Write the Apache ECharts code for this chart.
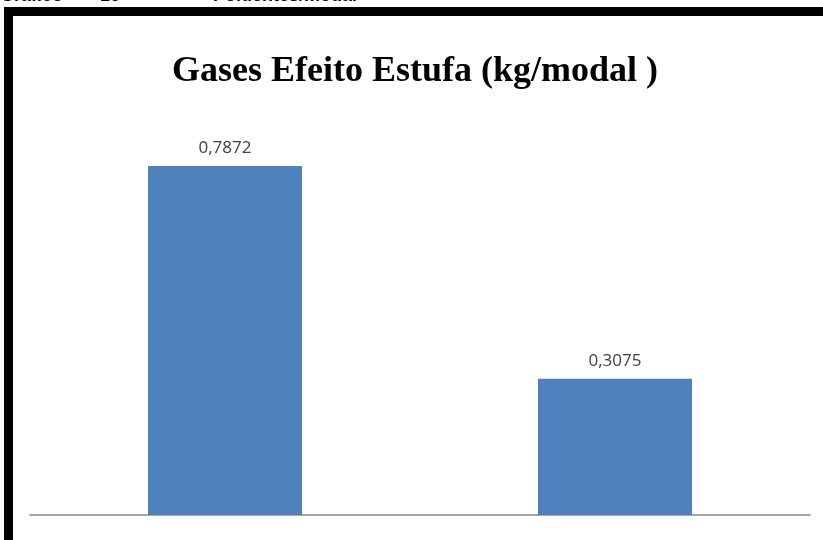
<!DOCTYPE html>
<html>
<head>
<meta charset="utf-8">
<script src="https://cdn.jsdelivr.net/npm/echarts@6/dist/echarts.min.js"></script>
<style>
  html, body { margin: 0; padding: 0; background: #ffffff; }
  #chart { width: 823px; height: 540px; }
</style>
</head>
<body>
<div id="chart"></div>
<script>
// Emissões de gases de efeito estufa por modal (kg/modal)
const categories = ['Modal A', 'Modal B'];
const emissions = [0.7872, 0.3075];
const chartTitle = 'Gases Efeito Estufa (kg/modal )';
const captionParts = [
  { text: 'Gráfico', x: 0 },
  { text: '16', x: 100 },
  { text: '–', x: 147 },
  { text: 'Poluentes/modal', x: 213 }
];

const chart = echarts.init(document.getElementById('chart'), null, { renderer: 'canvas' });

const captionTexts = captionParts.map(p => ({
  type: 'text',
  left: p.x,
  top: -13,
  style: {
    text: p.text,
    font: 'bold 18px "Liberation Sans", Arial, sans-serif',
    fill: '#000000'
  }
}));

chart.setOption({
  animation: false,
  backgroundColor: '#ffffff',
  title: {
    text: chartTitle,
    left: 410,
    top: 49,
    textAlign: 'center',
    textStyle: {
      fontFamily: '"Liberation Serif", "Times New Roman", serif',
      fontWeight: 'bold',
      fontSize: 36,
      color: '#000000'
    }
  },
  grid: { left: 30, right: 13, top: 116, bottom: 25 },
  xAxis: {
    type: 'category',
    data: categories,
    axisLine: { show: true, lineStyle: { color: '#a6a6a6', width: 2 } },
    axisTick: { show: false },
    axisLabel: { show: false },
    splitLine: { show: false }
  },
  yAxis: {
    type: 'value',
    min: 0,
    max: 0.9,
    show: false,
    splitLine: { show: false }
  },
  series: [{
    type: 'bar',
    data: emissions,
    barWidth: 154,
    itemStyle: { color: '#4f81bd' },
    label: {
      show: true,
      position: 'top',
      distance: 9,
      formatter: p => String(p.value).replace('.', ','),
      fontFamily: '"Open Sans", "Liberation Sans", sans-serif',
      fontSize: 17,
      color: '#404040'
    }
  }],
  graphic: [
    // moldura preta (topo e lado esquerdo)
    { type: 'rect', shape: { x: 4, y: 7, width: 819, height: 9 }, style: { fill: '#000000' } },
    { type: 'rect', shape: { x: 4, y: 7, width: 9, height: 533 }, style: { fill: '#000000' } },
    ...captionTexts
  ]
});
</script>
</body>
</html>
